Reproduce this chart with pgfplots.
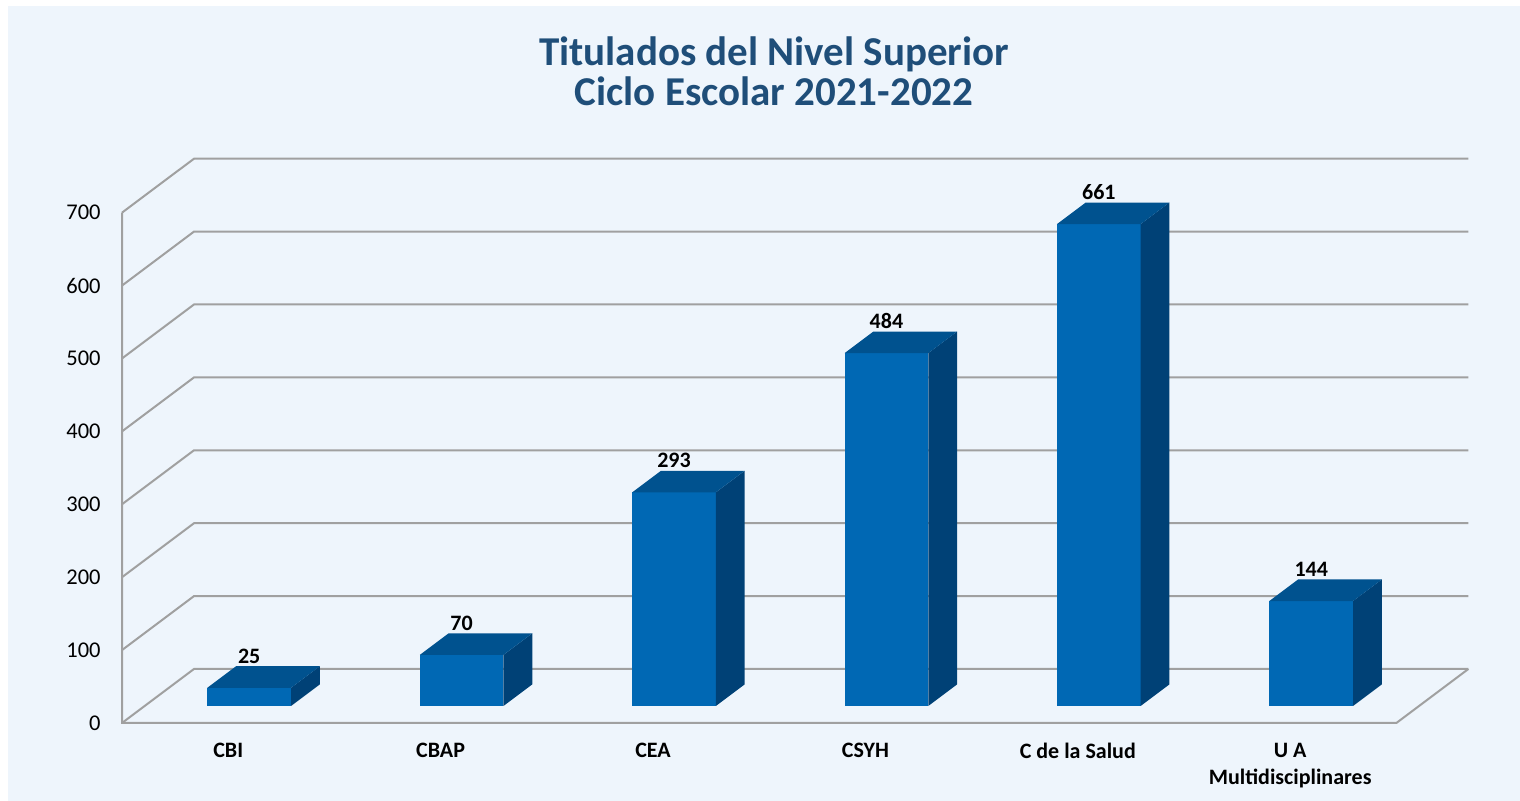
\documentclass[border=0pt]{standalone}
\usepackage{pgfplots}
\pgfplotsset{compat=1.18}
\usepackage{pgfplotstable}
\usepackage{fontspec}
\setmainfont{Carlito}
\definecolor{bgc}{RGB}{238,245,252}
\definecolor{gridc}{RGB}{160,160,160}
\definecolor{titlec}{RGB}{31,78,121}
\definecolor{barfront}{RGB}{0,104,180}
\definecolor{bartop}{RGB}{0,82,143}
\definecolor{barside}{RGB}{0,65,118}
\pgfplotstableread{
x v
0 25
1 70
2 293
3 484
4 661
5 144
}\datatable
\newcommand\tdbar[2]{%
 \pgfmathsetmacro\tbxa{#1-0.098}%
 \pgfmathsetmacro\tbxb{#1+0.296}%
 \pgfmathsetmacro\tbxc{#1+0.296+0.1356}%
 \pgfmathsetmacro\tbxd{#1-0.098+0.1356}%
 \pgfmathsetmacro\tbyt{#2+23.33}%
 \pgfmathsetmacro\tbytb{#2+23.33+29.63}%
 \addplot[fill=barfront, draw=none] coordinates {(\tbxa,23.33) (\tbxb,23.33) (\tbxb,\tbyt) (\tbxa,\tbyt)};
 \addplot[fill=barside, draw=none] coordinates {(\tbxb,23.33) (\tbxc,52.96) (\tbxc,\tbytb) (\tbxb,\tbyt)};
 \addplot[fill=bartop, draw=none] coordinates {(\tbxa,\tbyt) (\tbxb,\tbyt) (\tbxc,\tbytb) (\tbxd,\tbytb)};
}
\begin{document}
\begin{tikzpicture}
\fill[white] (0,0) rectangle (760pt,400.5pt);
\fill[bgc] (4pt,0) rectangle (760pt,397.5pt);
\node[align=center, font=\fontsize{20.5}{20}\selectfont\bfseries, text=titlec, anchor=north, inner sep=0pt] at (387pt,382.2pt) {Titulados del Nivel Superior\\Ciclo Escolar 2021-2022};
\begin{axis}[
  at={(114.1pt,39pt)}, anchor=origin,
  x=106.2pt, y=0.3645pt,
  xmin=-0.5, xmax=5.839, ymin=0, ymax=774.07,
  clip=false,
  axis line style={draw=none},
  major tick length=0pt,
  /pgf/number format/assume math mode=true,
  ytick={0,100,...,700},
  yticklabel style={anchor=east, inner sep=0pt, xshift=-10.5pt, font=\fontsize{11.25}{13}\selectfont},
  xtick={0,...,5},
  xticklabels={CBI, CBAP, CEA, CSYH, C de la Salud, {U A\\Multidisciplinares}},
  xticklabel style={anchor=north, align=center, inner sep=0pt, yshift=-10pt, font=\fontsize{11}{13.5}\selectfont\bfseries},
]
% walls
\addplot[gridc, line width=1pt] coordinates {(-0.5,0) (-0.161,74.07) (5.839,74.07)};
\addplot[gridc, line width=1pt] coordinates {(-0.5,100) (-0.161,174.07) (5.839,174.07)};
\addplot[gridc, line width=1pt] coordinates {(-0.5,200) (-0.161,274.07) (5.839,274.07)};
\addplot[gridc, line width=1pt] coordinates {(-0.5,300) (-0.161,374.07) (5.839,374.07)};
\addplot[gridc, line width=1pt] coordinates {(-0.5,400) (-0.161,474.07) (5.839,474.07)};
\addplot[gridc, line width=1pt] coordinates {(-0.5,500) (-0.161,574.07) (5.839,574.07)};
\addplot[gridc, line width=1pt] coordinates {(-0.5,600) (-0.161,674.07) (5.839,674.07)};
\addplot[gridc, line width=1pt] coordinates {(-0.5,700) (-0.161,774.07) (5.839,774.07)};
\addplot[gridc, line width=1pt] coordinates {(-0.5,700) (-0.5,0) (5.5,0) (5.839,74.07)};
% bars
\tdbar{0}{25}
\tdbar{1}{70}
\tdbar{2}{293}
\tdbar{3}{484}
\tdbar{4}{661}
\tdbar{5}{144}
% value labels
\addplot[draw=none, mark=none, nodes near coords, point meta=\thisrow{v},
  every node near coord/.append style={anchor=south, inner sep=0pt, yshift=12pt, font=\fontsize{11}{13}\selectfont\bfseries, text=black}]
  table[x expr=\thisrow{x}+0.099, y expr=\thisrow{v}+23.33] {\datatable};
\end{axis}
\end{tikzpicture}
\end{document}
